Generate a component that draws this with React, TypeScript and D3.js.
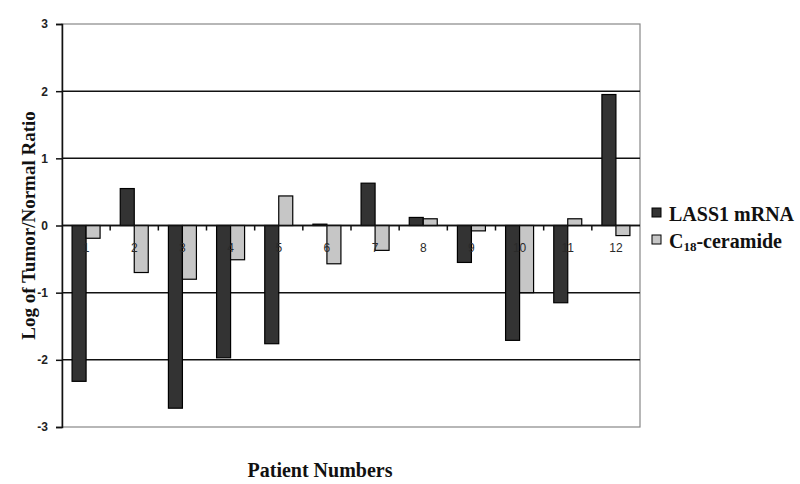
import React, { useEffect, useRef } from "react";
import * as d3 from "d3";

const patients = ["1", "2", "3", "4", "5", "6", "7", "8", "9", "10", "11", "12"];
const lass1 = [-2.32, 0.55, -2.72, -1.97, -1.76, 0.02, 0.63, 0.12, -0.55, -1.71, -1.15, 1.95];
const ceramide = [-0.19, -0.7, -0.8, -0.51, 0.44, -0.57, -0.37, 0.1, -0.08, -1.0, 0.1, -0.15];
const yTicks = [-3, -2, -1, 0, 1, 2, 3];
const seriesNames = ["LASS1 mRNA", "C18-ceramide"];
const colors = ["#333333", "#c6c6c6"];

export default function App() {
  const ref = useRef<SVGSVGElement>(null);

  useEffect(() => {
    const svg = d3.select(ref.current);
    svg.selectAll("*").remove();

    const left = 62, right = 640, top = 24, bottom = 427;
    const serif = "'Times New Roman', 'Liberation Serif', serif";
    const sans = "Arial, 'Liberation Sans', sans-serif";

    const x = d3.scaleBand().domain(patients).range([left, right]);
    const y = d3.scaleLinear().domain([-3, 3]).range([bottom, top]);
    const barW = 14;

    // plot frame
    svg.append("rect")
      .attr("x", left).attr("y", top)
      .attr("width", right - left).attr("height", bottom - top)
      .attr("fill", "white").attr("stroke", "#888").attr("stroke-width", 1.2);

    // gridlines
    svg.append("g").selectAll("line")
      .data(yTicks.filter(d => d !== 3 && d !== -3))
      .enter().append("line")
      .attr("x1", left).attr("x2", right)
      .attr("y1", d => y(d)).attr("y2", d => y(d))
      .attr("stroke", "#111").attr("stroke-width", 1.5);

    // y axis
    const yAxis = svg.append("g")
      .attr("transform", `translate(${left},0)`)
      .call(d3.axisLeft(y).tickValues(yTicks).tickSize(6).tickFormat(d => String(d)));
    yAxis.select(".domain").attr("stroke", "#111").attr("stroke-width", 1.5);
    yAxis.selectAll("line").attr("stroke", "#111").attr("stroke-width", 1.5);
    yAxis.selectAll("text")
      .attr("x", -14)
      .style("font-family", sans)
      .style("font-size", "12px")
      .style("font-weight", "bold")
      .attr("fill", "#222");

    // bars
    const series = [lass1, ceramide];
    series.forEach((vals, si) => {
      svg.append("g").selectAll("rect")
        .data(vals)
        .enter().append("rect")
        .attr("x", (d, i) => (x(patients[i]) as number) + x.bandwidth() / 2 - barW + si * barW)
        .attr("width", barW)
        .attr("y", d => y(Math.max(0, d)))
        .attr("height", d => Math.abs(y(d) - y(0)))
        .attr("fill", colors[si])
        .attr("stroke", "#000")
        .attr("stroke-width", 1.2);
    });

    // zero axis with ticks between categories
    svg.append("line")
      .attr("x1", left).attr("x2", right)
      .attr("y1", y(0)).attr("y2", y(0))
      .attr("stroke", "#111").attr("stroke-width", 1.5);
    svg.append("g").selectAll("line")
      .data(patients.slice(1))
      .enter().append("line")
      .attr("x1", d => x(d) as number).attr("x2", d => x(d) as number)
      .attr("y1", y(0)).attr("y2", y(0) + 5)
      .attr("stroke", "#111").attr("stroke-width", 1.5);

    // category labels, drawn over the bars
    svg.append("g").selectAll("text")
      .data(patients)
      .enter().append("text")
      .attr("x", d => (x(d) as number) + x.bandwidth() / 2)
      .attr("y", y(0) + 26)
      .attr("text-anchor", "middle")
      .style("font-family", sans)
      .style("font-size", "12px")
      .attr("fill", "#2a2a2a")
      .text(d => d);

    // axis titles
    svg.append("text")
      .attr("transform", `translate(35,${(top + bottom) / 2}) rotate(-90)`)
      .attr("text-anchor", "middle")
      .style("font-family", serif)
      .style("font-size", "19px")
      .style("font-weight", "bold")
      .attr("fill", "#111")
      .text("Log of Tumor/Normal Ratio");

    svg.append("text")
      .attr("x", 320).attr("y", 477)
      .attr("text-anchor", "middle")
      .style("font-family", serif)
      .style("font-size", "20px")
      .style("font-weight", "bold")
      .attr("fill", "#111")
      .text("Patient Numbers");

    // legend
    const legend = svg.append("g").attr("transform", "translate(652,208)");
    seriesNames.forEach((name, i) => {
      const g = legend.append("g").attr("transform", `translate(0,${i * 27})`);
      g.append("rect")
        .attr("x", 0).attr("y", 0).attr("width", 9).attr("height", 9)
        .attr("fill", colors[i]).attr("stroke", "#000").attr("stroke-width", 1);
      const t = g.append("text")
        .attr("x", 17).attr("y", 13)
        .style("font-family", serif)
        .style("font-size", "20px")
        .style("font-weight", "bold")
        .attr("fill", "#111");
      if (name.startsWith("C18")) {
        t.append("tspan").text("C");
        t.append("tspan").attr("dy", 3).style("font-size", "13px").text("18");
        t.append("tspan").attr("dy", -3).text(name.slice(3));
      } else {
        t.text(name);
      }
    });
  }, []);

  return (
    <svg ref={ref} width={800} height={484} style={{ position: "absolute", left: 0, top: 0, background: "white" }} />
  );
}
